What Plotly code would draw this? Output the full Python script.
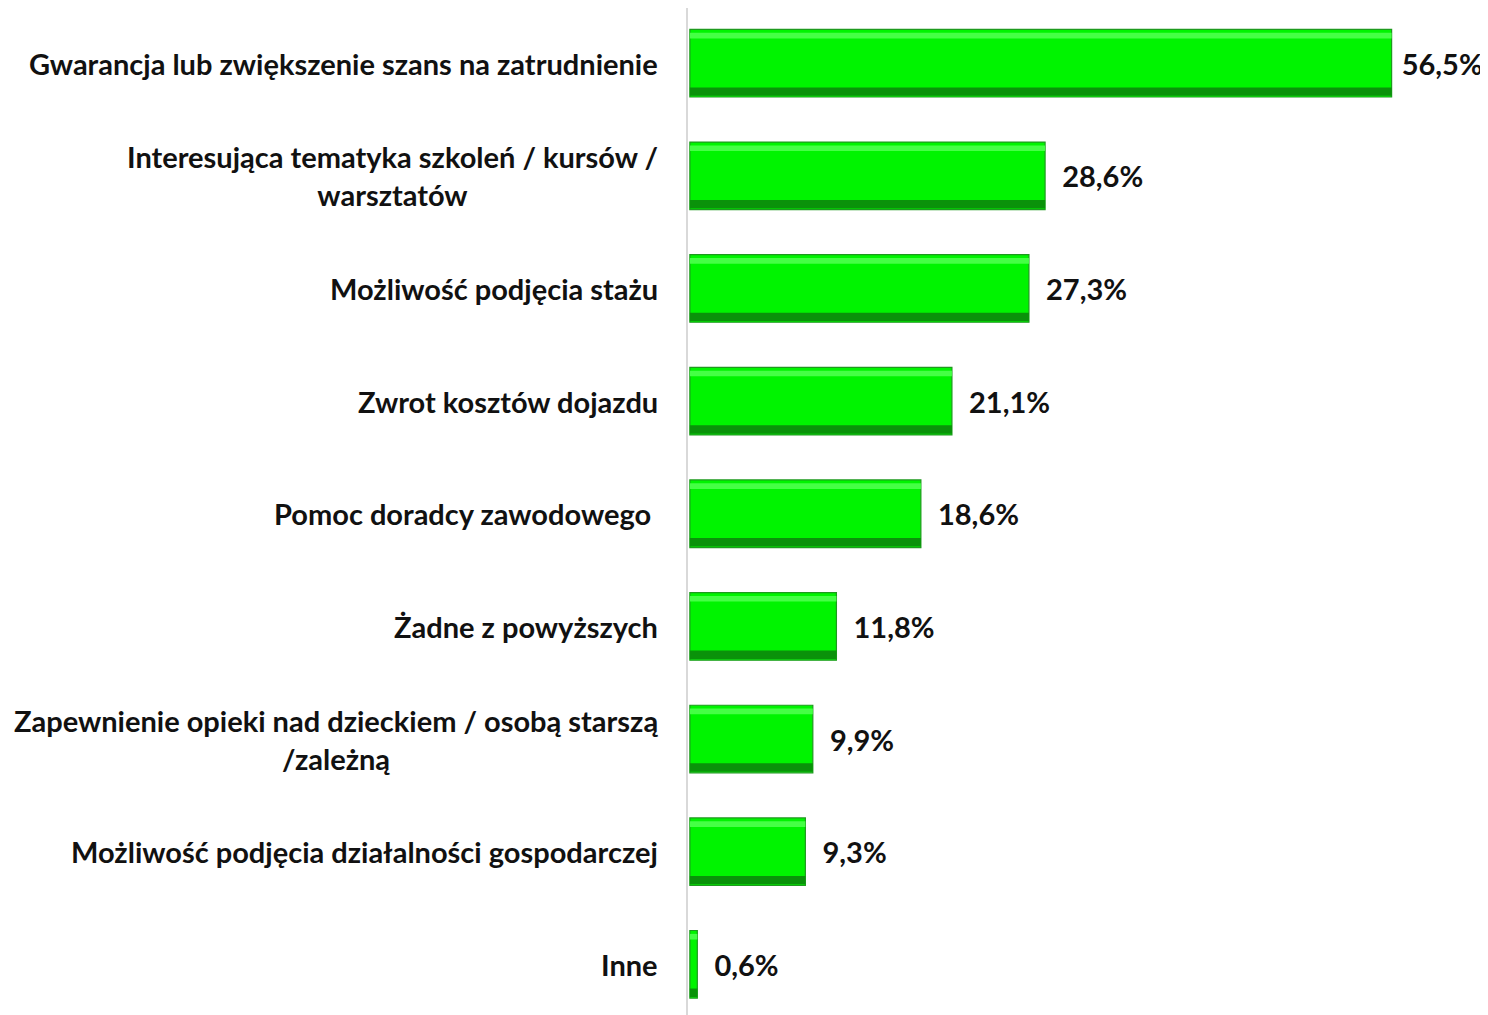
import plotly.graph_objects as go

categories = [
    "Gwarancja lub zwiększenie szans na zatrudnienie",
    "Interesująca tematyka szkoleń / kursów /<br>warsztatów",
    "Możliwość podjęcia stażu",
    "Zwrot kosztów dojazdu",
    "Pomoc doradcy zawodowego ",
    "Żadne z powyższych",
    "Zapewnienie opieki nad dzieckiem / osobą starszą<br>/zależną",
    "Możliwość podjęcia działalności gospodarczej",
    "Inne",
]
values = [56.5, 28.6, 27.3, 21.1, 18.6, 11.8, 9.9, 9.3, 0.6]

FONT = "Lato"
FS = 29
ypos = list(range(len(categories)))
XMAX = 64.26

value_text = [
    ("\u00a0\u00a0" if v < XMAX - 8 else "\u00a0") + f"{v:.1f}".replace(".", ",") + "%"
    for v in values
]

fig = go.Figure()
fig.add_trace(go.Bar(
    y=ypos, x=values, orientation="h", width=0.6,
    marker=dict(color="#00F400", line=dict(color="#1E9A1E", width=1.2)),
    text=value_text, textposition="outside",
    textfont=dict(family=FONT, size=FS, color="#111111", weight="bold"),
    cliponaxis=False, hoverinfo="skip", showlegend=False,
))
fig.add_trace(go.Bar(
    y=ypos, x=values, orientation="h", width=0.05, offset=-0.27,
    marker=dict(color="#45FF45", line=dict(width=0)),
    hoverinfo="skip", showlegend=False,
))
fig.add_trace(go.Bar(
    y=ypos, x=values, orientation="h", width=0.075, offset=0.215,
    marker=dict(color="#0A920A", line=dict(width=0)),
    hoverinfo="skip", showlegend=False,
))

annotations = [
    dict(xref="paper", yref="y", x=0, y=i, xanchor="right", xshift=-28,
         align="center", text=lab, showarrow=False,
         font=dict(family=FONT, size=FS, color="#111111", weight="bold"))
    for i, lab in enumerate(categories)
]

# page body has an 8px margin: compensate so the figure lands where the reference does
fig.update_layout(
    width=1480, height=1007,
    margin=dict(l=680, r=0, t=0, b=0),
    paper_bgcolor="white", plot_bgcolor="white",
    barmode="overlay",
    annotations=annotations,
    xaxis=dict(range=[-0.15, XMAX], visible=False, fixedrange=True),
    yaxis=dict(range=[8.45, -0.49], showticklabels=False, showgrid=False,
               zeroline=False, showline=True, linecolor="#D9D9D9", linewidth=2,
               ticks=""),
    font=dict(family=FONT),
)

fig.write_html("out.html")
